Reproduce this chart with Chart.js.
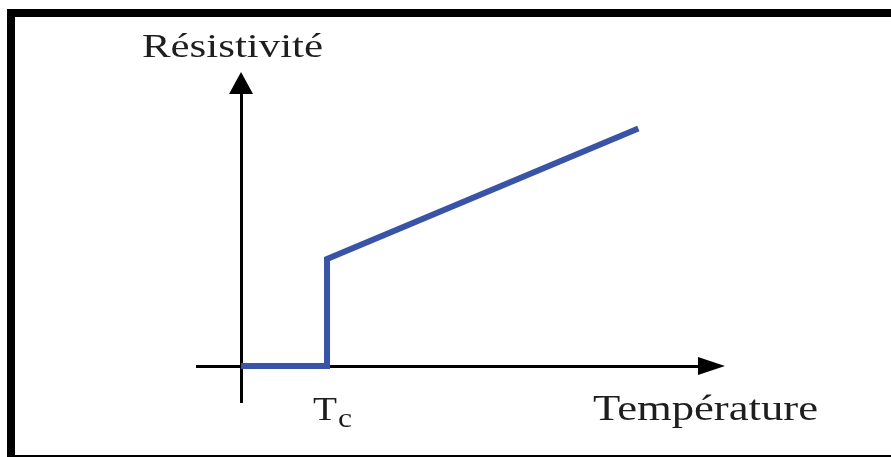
<!DOCTYPE html>
<html>
<head>
<meta charset="utf-8">
<script src="https://cdn.jsdelivr.net/npm/chart.js@4.4.1/dist/chart.umd.min.js"></script>
<style>
  html, body { margin: 0; padding: 0; background: #fff; }
  canvas { display: block; }
</style>
</head>
<body>
<canvas id="c" width="891" height="457"></canvas>
<script>
// ---- data ----
const temperature = [0, 1, 1, 4.62];      // x (units of Tc)
const resistivity = [0, 0, 1, 2.22];      // y (units of jump at Tc)
const tcValue = 1;
const xLabel = 'Température';
const yLabel = 'Résistivité';
const tcMain = 'T';
const tcSub = 'c';

const points = temperature.map((t, i) => ({ x: t, y: resistivity[i] }));

const decorations = {
  id: 'decorations',
  beforeDraw(chart) {
    const ctx = chart.ctx;
    ctx.save();
    ctx.fillStyle = '#fff';
    ctx.fillRect(0, 0, chart.width, chart.height);
    // frame
    ctx.fillStyle = '#000';
    ctx.fillRect(7, 9, 8, 448);
    ctx.fillRect(7, 9, 884, 8);
    ctx.fillRect(7, 455, 884, 2);
    ctx.restore();
  },
  afterDraw(chart) {
    const ctx = chart.ctx;
    const xs = chart.scales.x, ys = chart.scales.y;
    const ca = chart.chartArea;
    const x0 = xs.getPixelForValue(0);
    const y0 = ys.getPixelForValue(0);
    ctx.save();
    ctx.fillStyle = '#000';
    // x arrow
    ctx.beginPath();
    ctx.moveTo(ca.right - 2, y0 - 9);
    ctx.lineTo(ca.right + 25, y0);
    ctx.lineTo(ca.right - 2, y0 + 9);
    ctx.closePath();
    ctx.fill();
    // y arrow
    ctx.beginPath();
    ctx.moveTo(x0 - 12, ca.top + 2);
    ctx.lineTo(x0, ca.top - 20);
    ctx.lineTo(x0 + 12, ca.top + 2);
    ctx.closePath();
    ctx.fill();

    // texts (horizontally stretched serif, like the reference)
    ctx.fillStyle = '#1e1e1e';
    ctx.textBaseline = 'alphabetic';
    ctx.textAlign = 'left';
    function stretched(text, size, left, baseline, targetWidth) {
      ctx.font = size + 'px "Liberation Serif", "Times New Roman", serif';
      const w = ctx.measureText(text).width;
      const s = targetWidth / w;
      ctx.save();
      ctx.translate(left, baseline);
      ctx.scale(s, 1);
      ctx.fillText(text, 0, 0);
      ctx.restore();
    }
    stretched(yLabel, 33, 142, 57, 181);
    stretched(xLabel, 35, 593, 420, 225);
    const tcX = xs.getPixelForValue(tcValue);
    stretched(tcMain, 34, tcX - 14, 420, 24);
    stretched(tcSub, 28, tcX + 11, 427, 14);
    ctx.restore();
  }
};

new Chart(document.getElementById('c'), {
  type: 'scatter',
  data: {
    datasets: [{
      data: points,
      showLine: true,
      borderColor: '#3953a6',
      borderWidth: 6,
      pointRadius: 0,
      borderJoinStyle: 'miter',
      borderCapStyle: 'butt',
      tension: 0,
      fill: false
    }]
  },
  options: {
    responsive: false,
    animation: false,
    devicePixelRatio: 1,
    layout: { padding: { left: 197, right: 191, top: 92, bottom: 55 } },
    plugins: { legend: { display: false }, tooltip: { enabled: false }, title: { display: false } },
    scales: {
      x: {
        type: 'linear',
        min: -0.512, max: 5.337,
        position: { y: 0 },
        grid: { display: false },
        ticks: { display: false },
        border: { display: true, color: '#000', width: 3 },
        afterFit(s) { s.height = 0; }
      },
      y: {
        type: 'linear',
        min: -0.336, max: 2.561,
        position: { x: 0 },
        grid: { display: false },
        ticks: { display: false },
        border: { display: true, color: '#000', width: 3 },
        afterFit(s) { s.width = 0; }
      }
    }
  },
  plugins: [decorations]
});
</script>
</body>
</html>
